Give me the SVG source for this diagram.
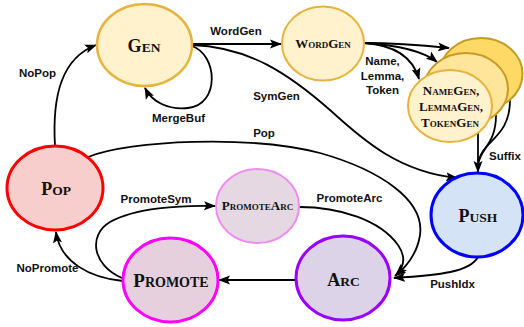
<svg xmlns="http://www.w3.org/2000/svg" width="524" height="327" viewBox="0 0 524 327">
<defs>
<marker id="arr" markerUnits="userSpaceOnUse" markerWidth="12" markerHeight="10" viewBox="0 0 12 10" refX="11" refY="5" orient="auto">
<path d="M0,0.5 L12,5 L0,9.5 L2.5,5 Z" fill="#000"/>
</marker>
<style>
.n{font-family:"Liberation Serif","Times New Roman",serif;font-weight:bold;fill:#111;text-anchor:middle}
.l{font-family:"Liberation Sans",Arial,sans-serif;font-weight:bold;font-size:11.5px;fill:#111;text-anchor:middle}
.e{fill:none;stroke:#000;stroke-width:1.8;marker-end:url(#arr)}
.s{fill:none;stroke:#000;stroke-width:1.8}
</style>
</defs>
<rect width="524" height="327" fill="#fff"/>

<g id="connectors">
<path class="e" d="M55 146 C52 95,62 58,96 45"/>
<path class="e" d="M192 46 C218 55,220 105,188 108 C168 110,152 102,145 88"/>
<path class="e" d="M192 44 L281 44"/>
<path class="e" d="M192 45 C250 47,290 75,330 110 C365 142,400 172,457 178"/>
<path class="e" d="M364 43 C395 43,420 45,449 48"/>
<path class="e" d="M364 43 C395 45,422 50,437 62"/>
<path class="e" d="M364 43 C395 45,413 58,419 79"/>
<path class="s" d="M478 133 L478 160"/>
<path class="s" d="M496 115 C496 145,480 148,478 165"/>
<path class="s" d="M510 100 C510 140,480 140,478 165"/>
<path class="e" d="M478 158 L478 172"/>
<path class="e" d="M88 157 C130 140,250 135,320 153 C380 170,425 200,420 235 C417 255,405 268,395 276"/>
<path class="e" d="M299 207 C340 207,380 220,398 245 C407 258,403 268,396 275"/>
<path class="e" d="M478 257 C470 272,440 275,394 278"/>
<path class="e" d="M296 280 L219 280"/>
<path class="e" d="M123 281 C90 278,60 262,56 232"/>
<path class="e" d="M122 278 C92 265,88 235,110 222 C135 208,180 205,215 206"/>
</g>

<g id="labels">
<text class="l" x="37.5" y="77">NoPop</text>
<text class="l" x="236" y="35">WordGen</text>
<text class="l" x="178.5" y="122">MergeBuf</text>
<text class="l" x="276.5" y="100">SymGen</text>
<text class="l" x="264" y="137">Pop</text>
<text class="l" x="382.5" y="65">Name,</text>
<text class="l" x="382.5" y="80">Lemma,</text>
<text class="l" x="382.5" y="94">Token</text>
<text class="l" x="505" y="160">Suffix</text>
<text class="l" x="156" y="203">PromoteSym</text>
<text class="l" x="349.5" y="202">PromoteArc</text>
<text class="l" x="47.5" y="272">NoPromote</text>
<text class="l" x="452.5" y="288">PushIdx</text>
</g>

<g id="gen">
<ellipse cx="144.5" cy="45" rx="47.5" ry="41" fill="#fff2cc" stroke="#e6b43c" stroke-width="2.5"/>
<text class="n" x="144" y="52"><tspan font-size="18">G</tspan><tspan font-size="13.5">EN</tspan></text>
</g>

<g id="wordgen">
<ellipse cx="323" cy="43.5" rx="41" ry="37" fill="#fff2cc" stroke="#e6b43c" stroke-width="2"/>
<text class="n" x="323" y="48"><tspan font-size="13">W</tspan><tspan font-size="9">ORD</tspan><tspan font-size="13">G</tspan><tspan font-size="9">EN</tspan></text>
</g>

<g id="namegen">
<ellipse cx="481" cy="74" rx="41.5" ry="36" fill="#ffd966" stroke="#c49b27" stroke-width="2"/>
<ellipse cx="466" cy="89" rx="42" ry="36" fill="#ffe599" stroke="#c49b27" stroke-width="2"/>
<ellipse cx="450" cy="106" rx="42" ry="36" fill="#fff2cc" stroke="#e6b43c" stroke-width="2"/>
<text class="n" x="451" y="95"><tspan font-size="13">N</tspan><tspan font-size="9">AME</tspan><tspan font-size="13">G</tspan><tspan font-size="9">EN</tspan><tspan font-size="13">,</tspan></text>
<text class="n" x="451" y="111"><tspan font-size="13">L</tspan><tspan font-size="9">EMMA</tspan><tspan font-size="13">G</tspan><tspan font-size="9">EN</tspan><tspan font-size="13">,</tspan></text>
<text class="n" x="450" y="127"><tspan font-size="13">T</tspan><tspan font-size="9">OKEN</tspan><tspan font-size="13">G</tspan><tspan font-size="9">EN</tspan></text>
</g>

<g id="push">
<ellipse cx="477" cy="215" rx="46" ry="42" fill="#d4e3f6" stroke="#0000ff" stroke-width="3"/>
<text class="n" x="478" y="222"><tspan font-size="18">P</tspan><tspan font-size="13.5">USH</tspan></text>
</g>

<g id="arc">
<ellipse cx="343" cy="278" rx="47" ry="42" fill="#dcd3e8" stroke="#9900ff" stroke-width="3"/>
<text class="n" x="343.5" y="286"><tspan font-size="18">A</tspan><tspan font-size="13.5">RC</tspan></text>
</g>

<g id="promote">
<ellipse cx="170.5" cy="280" rx="47.5" ry="42" fill="#e6d0de" stroke="#ff00ff" stroke-width="3"/>
<text class="n" x="171" y="287"><tspan font-size="19">P</tspan><tspan font-size="14">ROMOTE</tspan></text>
</g>

<g id="promotearc">
<ellipse cx="257.5" cy="206" rx="41.5" ry="37" fill="#e6d8e2" stroke="#f08cf0" stroke-width="2"/>
<text class="n" x="257.5" y="210"><tspan font-size="13">P</tspan><tspan font-size="9">ROMOTE</tspan><tspan font-size="13">A</tspan><tspan font-size="9">RC</tspan></text>
</g>

<g id="pop">
<ellipse cx="55" cy="188" rx="48" ry="42" fill="#f8cecc" stroke="#ff0000" stroke-width="3"/>
<text class="n" x="56" y="195"><tspan font-size="18">P</tspan><tspan font-size="13.5">OP</tspan></text>
</g>
</svg>
